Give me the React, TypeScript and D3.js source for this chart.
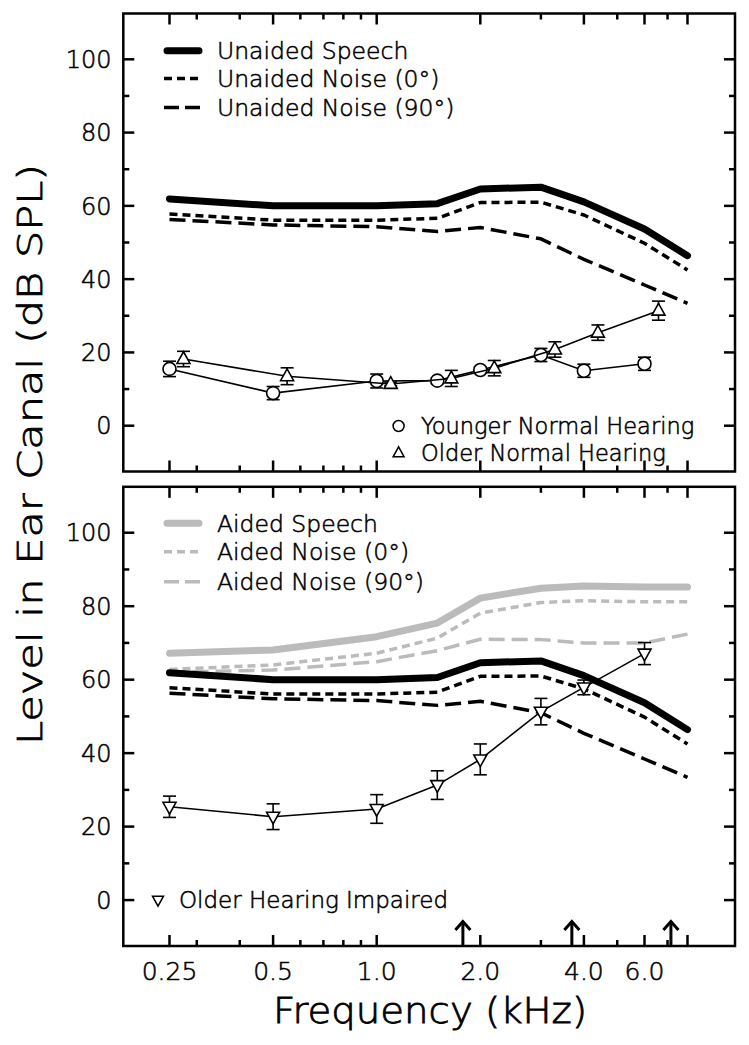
import * as d3 from 'd3';

// frequencies (kHz) where the long-term spectra were sampled
const FREQS = [0.25, 0.5, 1.0, 1.5, 2.0, 3.0, 4.0, 6.0, 8.0];
const UNAIDED_SPEECH = [61.9, 60.0, 60.0, 60.6, 64.6, 65.1, 61.1, 53.7, 46.4];
const UNAIDED_NOISE_0 = [57.8, 56.1, 56.1, 56.6, 60.9, 61.0, 57.5, 49.8, 42.5];
const UNAIDED_NOISE_90 = [56.3, 54.8, 54.3, 53.0, 54.1, 51.0, 45.4, 38.4, 33.4];
const AIDED_SPEECH = [67.2, 68.1, 71.7, 75.4, 82.2, 84.9, 85.5, 85.2, 85.2];
const AIDED_NOISE_0 = [62.8, 64.0, 67.2, 71.3, 78.1, 81.0, 81.5, 81.2, 81.2];
const AIDED_NOISE_90 = [62.0, 62.6, 64.9, 67.9, 71.0, 70.9, 70.0, 70.0, 72.4];

// thresholds (mean +/- error)
const THRESH_FREQS = [0.25, 0.5, 1.0, 1.5, 2.0, 3.0, 4.0, 6.0];
const YOUNGER_NH = [15.5, 8.9, 12.2, 12.3, 15.2, 19.3, 15.0, 16.9];
const YOUNGER_NH_ERR = [2.1, 1.8, 1.9, 0.8, 0.8, 1.8, 1.8, 1.8];
const OLDER_NH = [18.2, 13.5, 11.4, 12.9, 15.7, 20.8, 25.4, 31.4];
const OLDER_NH_ERR = [2.1, 2.3, 0.5, 2.2, 2.1, 2.1, 2.1, 2.6];
const OLDER_HI = [25.4, 22.7, 24.8, 31.3, 38.3, 51.3, 57.9, 67.1];
const OLDER_HI_ERR = [2.9, 3.5, 3.9, 3.9, 4.2, 3.6, 2.0, 3.0];

// arrows on the lower panel (kHz)
const ARROW_FREQS = [1.78, 3.69, 7.16];

const X_MAJOR = [0.25, 0.5, 1, 2, 4, 6, 8];
const X_MINOR = [0.3, 0.4, 0.6, 0.7, 0.8, 0.9, 3, 5, 7];
const X_LABELS = [
  { f: 0.25, t: '0.25' },
  { f: 0.5, t: '0.5' },
  { f: 1, t: '1.0' },
  { f: 2, t: '2.0' },
  { f: 4, t: '4.0' },
  { f: 6, t: '6.0' },
];
const Y_MAJOR = [0, 20, 40, 60, 80, 100];
const Y_MINOR = [10, 30, 50, 70, 90];

const W = 749;
const H = 1045;
const LEFT = 123.3;
const RIGHT = 735;
const FONT = '"DejaVu Sans", sans-serif';
const GRAY = '#bbbbbb';
const NH_SHIFT = 14; // older NH symbols are nudged right

// thin face, slightly thickened to match the plotter font
const TXT = {
  fontFamily: FONT,
  fontWeight: 200,
  fill: '#000',
  stroke: '#000',
  strokeWidth: 0.55,
} as const;

const x = d3.scaleLog().domain([0.25, 8]).range([169.5, 687.5]);
const yTop = d3.scaleLinear().domain([-12.5, 112.5]).range([471.5, 13.5]);
const yBot = d3.scaleLinear().domain([-12.5, 112.5]).range([946, 486.8]);

type Scale = d3.ScaleLinear<number, number>;

const STYLES = {
  speech: { width: 7, dash: undefined as string | undefined, cap: 'round' },
  noise0: { width: 3.5, dash: '8,5', cap: 'butt' },
  noise90: { width: 3.5, dash: '16,7', cap: 'butt' },
};

function curve(y: Scale, vals: number[]) {
  return d3
    .line<number>()
    .x((_, i) => x(FREQS[i]))
    .y((d) => y(d))(vals) as string;
}

function Spectrum({ y, vals, kind, color }: { y: Scale; vals: number[]; kind: keyof typeof STYLES; color: string }) {
  const s = STYLES[kind];
  return (
    <path
      d={curve(y, vals)}
      fill="none"
      stroke={color}
      strokeWidth={s.width}
      strokeDasharray={s.dash}
      strokeLinecap={s.cap as any}
      strokeLinejoin="round"
    />
  );
}

function upTri(cx: number, cy: number, w: number) {
  const h = w * 0.9;
  return `M${cx},${cy - h * 0.62}L${cx + w / 2},${cy + h * 0.38}L${cx - w / 2},${cy + h * 0.38}Z`;
}
function downTri(cx: number, cy: number, w: number) {
  const h = w * 0.9;
  return `M${cx},${cy + h * 0.62}L${cx + w / 2},${cy - h * 0.38}L${cx - w / 2},${cy - h * 0.38}Z`;
}

function Series({ y, vals, errs, shape, shift = 0 }: { y: Scale; vals: number[]; errs: number[]; shape: 'circle' | 'up' | 'down'; shift?: number }) {
  const px = (i: number) => x(THRESH_FREQS[i]) + shift;
  const line = d3
    .line<number>()
    .x((_, i) => px(i))
    .y((d) => y(d))(vals) as string;
  return (
    <g>
      <path d={line} fill="none" stroke="#000" strokeWidth={1.6} />
      {vals.map((v, i) => {
        const cx = px(i);
        const y1 = y(v + errs[i]);
        const y2 = y(v - errs[i]);
        return (
          <g key={i} stroke="#000" strokeWidth={1.6}>
            <line x1={cx} x2={cx} y1={y1} y2={y2} />
            <line x1={cx - 6.5} x2={cx + 6.5} y1={y1} y2={y1} />
            <line x1={cx - 6.5} x2={cx + 6.5} y1={y2} y2={y2} />
            {shape === 'circle' && <circle cx={cx} cy={y(v)} r={6.5} fill="#fff" />}
            {shape === 'up' && <path d={upTri(cx, y(v), 13)} fill="#fff" />}
            {shape === 'down' && <path d={downTri(cx, y(v), 13)} fill="#fff" />}
          </g>
        );
      })}
    </g>
  );
}

function Frame({ y }: { y: Scale }) {
  const [bottom, top] = y.range();
  return (
    <g>
      <g stroke="#000" strokeWidth={2.5} fill="none">
        <rect x={LEFT} y={top} width={RIGHT - LEFT} height={bottom - top} />
        {X_MAJOR.map((f) => (
          <g key={'M' + f}>
            <line x1={x(f)} x2={x(f)} y1={bottom} y2={bottom - 11} />
            <line x1={x(f)} x2={x(f)} y1={top} y2={top + 11} />
          </g>
        ))}
        {X_MINOR.map((f) => (
          <g key={'m' + f}>
            <line x1={x(f)} x2={x(f)} y1={bottom} y2={bottom - 6} />
            <line x1={x(f)} x2={x(f)} y1={top} y2={top + 6} />
          </g>
        ))}
        {Y_MAJOR.map((v) => (
          <g key={'YM' + v}>
            <line x1={LEFT} x2={LEFT + 11} y1={y(v)} y2={y(v)} />
            <line x1={RIGHT} x2={RIGHT - 11} y1={y(v)} y2={y(v)} />
          </g>
        ))}
        {Y_MINOR.map((v) => (
          <g key={'Ym' + v}>
            <line x1={LEFT} x2={LEFT + 6} y1={y(v)} y2={y(v)} />
            <line x1={RIGHT} x2={RIGHT - 6} y1={y(v)} y2={y(v)} />
          </g>
        ))}
      </g>
      {Y_MAJOR.map((v) => (
        <text key={'t' + v} x={111.5} y={y(v)} dy="0.36em" textAnchor="end" fontSize={24} {...TXT}>
          {v}
        </text>
      ))}
    </g>
  );
}

function LineKey({ y, kind, color, label }: { y: number; kind: keyof typeof STYLES; color: string; label: string }) {
  const s = STYLES[kind];
  return (
    <g>
      <line
        x1={kind === 'speech' ? 167 : 164}
        x2={kind === 'speech' ? 199 : 202}
        y1={y}
        y2={y}
        stroke={color}
        strokeWidth={s.width}
        strokeDasharray={kind === 'noise90' ? '15,6' : s.dash}
        strokeLinecap={s.cap as any}
      />
      <text x={217} y={y} dy="0.36em" fontSize={23.5} {...TXT}>
        {label}
      </text>
    </g>
  );
}

export default function App() {
  return (
    <svg
      width={W}
      height={H}
      viewBox={`0 0 ${W} ${H}`}
      style={{ position: 'absolute', left: 0, top: 0, background: '#fff' }}
    >
      {/* upper panel: unaided */}
      <Spectrum y={yTop} vals={UNAIDED_NOISE_90} kind="noise90" color="#000" />
      <Spectrum y={yTop} vals={UNAIDED_NOISE_0} kind="noise0" color="#000" />
      <Spectrum y={yTop} vals={UNAIDED_SPEECH} kind="speech" color="#000" />
      <Series y={yTop} vals={YOUNGER_NH} errs={YOUNGER_NH_ERR} shape="circle" />
      <Series y={yTop} vals={OLDER_NH} errs={OLDER_NH_ERR} shape="up" shift={NH_SHIFT} />
      <Frame y={yTop} />
      <LineKey y={50.7} kind="speech" color="#000" label="Unaided Speech" />
      <LineKey y={78.5} kind="noise0" color="#000" label="Unaided Noise (0°)" />
      <LineKey y={107.5} kind="noise90" color="#000" label="Unaided Noise (90°)" />
      <circle cx={398.6} cy={426} r={5.5} fill="#fff" stroke="#000" strokeWidth={1.5} />
      <text x={421} y={426} dy="0.36em" fontSize={22.5} {...TXT}>
        Younger Normal Hearing
      </text>
      <path d={upTri(398.6, 453, 11)} fill="#fff" stroke="#000" strokeWidth={1.5} />
      <text x={421} y={453} dy="0.36em" fontSize={22.5} {...TXT}>
        Older Normal Hearing
      </text>

      {/* lower panel: aided */}
      <Spectrum y={yBot} vals={AIDED_NOISE_90} kind="noise90" color={GRAY} />
      <Spectrum y={yBot} vals={AIDED_NOISE_0} kind="noise0" color={GRAY} />
      <Spectrum y={yBot} vals={AIDED_SPEECH} kind="speech" color={GRAY} />
      <Spectrum y={yBot} vals={UNAIDED_NOISE_90} kind="noise90" color="#000" />
      <Spectrum y={yBot} vals={UNAIDED_NOISE_0} kind="noise0" color="#000" />
      <Spectrum y={yBot} vals={UNAIDED_SPEECH} kind="speech" color="#000" />
      <Series y={yBot} vals={OLDER_HI} errs={OLDER_HI_ERR} shape="down" />
      <Frame y={yBot} />
      <LineKey y={523.3} kind="speech" color={GRAY} label="Aided Speech" />
      <LineKey y={551.7} kind="noise0" color={GRAY} label="Aided Noise (0°)" />
      <LineKey y={581.7} kind="noise90" color={GRAY} label="Aided Noise (90°)" />
      <path d={downTri(158, 900, 11)} fill="#fff" stroke="#000" strokeWidth={1.5} />
      <text x={179} y={900} dy="0.36em" fontSize={23} {...TXT}>
        Older Hearing Impaired
      </text>
      {ARROW_FREQS.map((f) => (
        <g key={f} stroke="#000" strokeWidth={3} fill="none">
          <line x1={x(f)} x2={x(f)} y1={945} y2={921.5} />
          <polyline points={`${x(f) - 7.5},${930} ${x(f)},${921.5} ${x(f) + 7.5},${930}`} />
        </g>
      ))}

      {/* x tick labels and titles */}
      {X_LABELS.map((d) => (
        <text key={d.t} x={x(d.f)} y={980} textAnchor="middle" fontSize={25} {...TXT}>
          {d.t}
        </text>
      ))}
      <text
        x={430}
        y={1023}
        textAnchor="middle"
        fontSize={36}
        textLength={314}
        lengthAdjust="spacingAndGlyphs"
        {...TXT}
        strokeWidth={0.8}
      >
        Frequency (kHz)
      </text>
      <text
        transform="translate(41.7,454.5) rotate(-90)"
        textAnchor="middle"
        fontSize={34}
        textLength={581}
        lengthAdjust="spacingAndGlyphs"
        {...TXT}
        strokeWidth={0.8}
      >
        Level in Ear Canal (dB SPL)
      </text>
    </svg>
  );
}
